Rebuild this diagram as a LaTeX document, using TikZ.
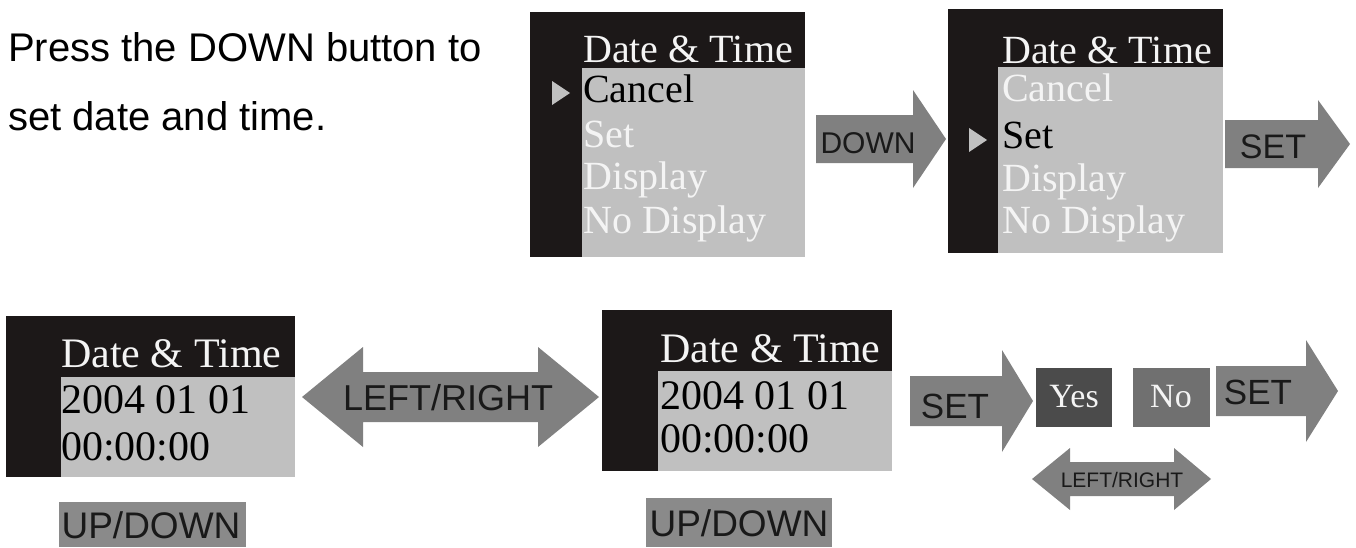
\documentclass[tikz,border=0pt]{standalone}
\usepackage{fontspec}
\setmainfont{Liberation Serif}
\setsansfont{Liberation Sans}
\definecolor{lcdblack}{HTML}{1C1818}
\definecolor{lcdgrey}{HTML}{C0C0C0}
\definecolor{lcdwhite}{HTML}{F4F4F4}
\definecolor{arrowgrey}{HTML}{808080}
\definecolor{keygrey}{HTML}{8A8A8A}
\definecolor{yesgrey}{HTML}{4B4B4B}
\definecolor{nogrey}{HTML}{707070}
\tikzset{
  note/.style={anchor=base west,inner sep=0pt,font=\sffamily\fontsize{40}{48}\selectfont},
  menu/.style={anchor=base west,inner sep=0pt,text=lcdwhite,font=\fontsize{40}{48}\selectfont},
  menubig/.style={menu,font=\fontsize{42}{50}\selectfont},
  key/.style={anchor=base,inner sep=0pt,text=black!90,font=\sffamily\fontsize{#1}{#1}\selectfont},
  key/.default=35
}
\begin{document}
\begin{tikzpicture}[x=1pt,y=-1pt]
\useasboundingbox (0,0) rectangle (1356,547);
% instruction
\node[note] (press) at (8,61) {Press the DOWN button to};
\node[note] (setdt) at (8,130) {set date and time.};
% menu, Cancel selected
\fill[lcdblack] (530,12) rectangle (805,257);
\fill[lcdgrey] (582,68) rectangle (805,257);
\fill[lcdgrey] (552,81) -- (570,93) -- (552,105) -- cycle;
\node[menu] (title1) at (583,62) {Date \& Time};
\node[menu,text=black] (cancel1) at (583,102) {Cancel};
\node[menu] (set1) at (583,147) {Set};
\node[menu] (disp1) at (583,189) {Display};
\node[menu] (nodisp1) at (583,233) {No Display};
% DOWN
\fill[arrowgrey] (816,115) -- (913,115) -- (913,90) -- (946,139) -- (913,188) -- (913,163) -- (816,163) -- cycle;
\node[key=30] (down) at (868,153) {DOWN};
% menu, Set selected
\fill[lcdblack] (948,9) rectangle (1223,253);
\fill[lcdgrey] (998,67) rectangle (1223,253);
\fill[lcdgrey] (969,128) -- (987,140) -- (969,152) -- cycle;
\node[menu] (title2) at (1002,63) {Date \& Time};
\node[menu] (cancel2) at (1002,101) {Cancel};
\node[menu,text=black] (set2) at (1002,148) {Set};
\node[menu] (disp2) at (1002,191) {Display};
\node[menu] (nodisp2) at (1002,233) {No Display};
% SET
\fill[arrowgrey] (1225,120) -- (1318,120) -- (1318,100) -- (1350,144) -- (1318,188) -- (1318,168) -- (1225,168) -- cycle;
\node[key=34] (set) at (1273,158) {SET};
% date screen
\fill[lcdblack] (6,316) rectangle (295,477);
\fill[lcdgrey] (61,377) rectangle (295,477);
\node[menubig] (title3) at (61,367) {Date \& Time};
\node[menubig,text=black] (date3) at (61,413) {2004 01 01};
\node[menubig,text=black] (time3) at (61,460) {00:00:00};
\fill[keygrey] (59,502) rectangle (246,547);
\node[key=37] (updown3) at (151,538) {UP/DOWN};
% LEFT/RIGHT
\fill[arrowgrey] (302,397) -- (363,347) -- (363,372) -- (538,372) -- (538,347) -- (599,397)
  -- (538,447) -- (538,422) -- (363,422) -- (363,447) -- cycle;
\node[key=36] (lr) at (448,410) {LEFT/RIGHT};
% date screen
\fill[lcdblack] (602,310) rectangle (892,471);
\fill[lcdgrey] (658,371) rectangle (892,471);
\node[menubig] (title4) at (660,362) {Date \& Time};
\node[menubig,text=black] (date4) at (660,409) {2004 01 01};
\node[menubig,text=black] (time4) at (660,452) {00:00:00};
\fill[keygrey] (646,498) rectangle (832,547);
\node[key=37] (updown4) at (739,536) {UP/DOWN};
% SET, Yes / No, SET
\fill[arrowgrey] (910,376) -- (1002,376) -- (1002,350) -- (1033,401) -- (1002,452) -- (1002,426) -- (910,426) -- cycle;
\node[key] (set3) at (955,418) {SET};
\fill[yesgrey] (1036,368) rectangle (1112,427);
\node[text=lcdwhite,font=\fontsize{34}{34}\selectfont,inner sep=0pt] (yes) at (1074,397) {Yes};
\fill[nogrey] (1133,368) rectangle (1210,427);
\node[text=lcdwhite,font=\fontsize{34}{34}\selectfont,inner sep=0pt] (no) at (1171,397) {No};
\fill[arrowgrey] (1216,366) -- (1306,366) -- (1306,340) -- (1338,391) -- (1306,442) -- (1306,416) -- (1216,416) -- cycle;
\node[key] (set4) at (1258,404) {SET};
\fill[arrowgrey] (1032,479) -- (1070,448) -- (1070,462) -- (1174,462) -- (1174,448) -- (1211,479)
  -- (1174,510) -- (1174,496) -- (1070,496) -- (1070,510) -- cycle;
\node[key=21] (lr2) at (1122,487) {LEFT/RIGHT};
\end{tikzpicture}
\end{document}
